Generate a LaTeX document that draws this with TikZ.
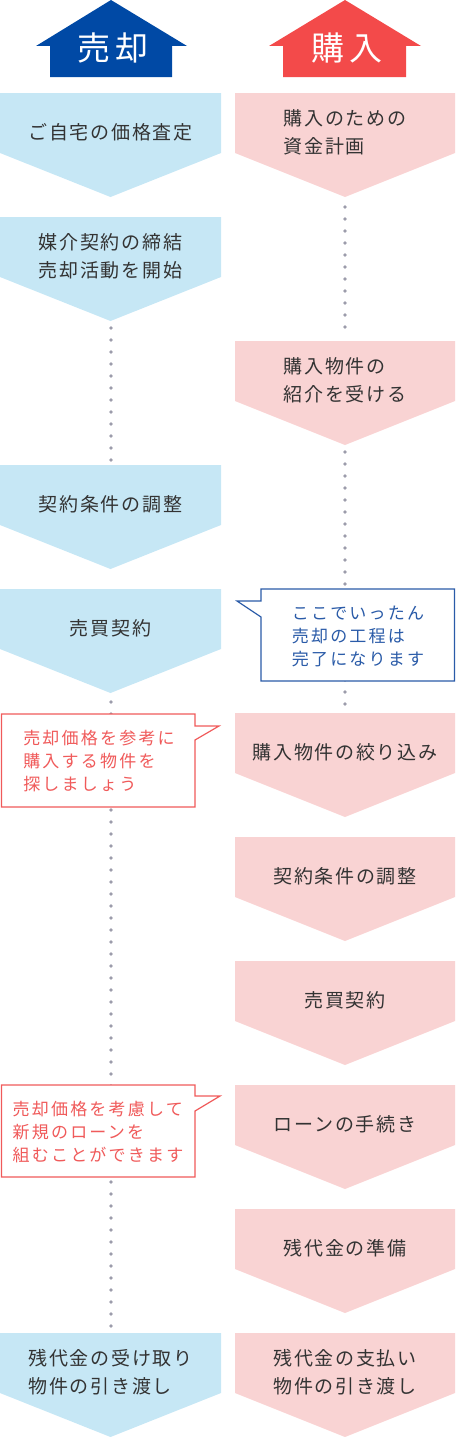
\documentclass[tikz,border=0pt]{standalone}
\usepackage{fontspec}
\setmainfont{Noto Sans CJK JP}
\newfontfamily\boxfont[LetterSpace=9]{Noto Sans CJK JP}
\newfontfamily\callfont[LetterSpace=13]{Noto Sans CJK JP}
\newfontfamily\headfont[LetterSpace=14]{Noto Sans CJK JP}
\definecolor{hblue}{HTML}{0049A5}
\definecolor{hred}{HTML}{F34A4A}
\definecolor{lblue}{HTML}{C6E7F5}
\definecolor{lpink}{HTML}{F9D3D3}
\definecolor{txt}{HTML}{333333}
\definecolor{cblue}{HTML}{2A5BA8}
\definecolor{cred}{HTML}{F05A5A}
\definecolor{dotc}{HTML}{9C9CAB}
\tikzset{
  boxtext/.style={text=txt, font=\boxfont\fontsize{19}{28}\selectfont, align=left, inner sep=0pt},
  headtext/.style={text=white, font=\headfont\fontsize{33}{33}\selectfont, inner sep=0pt},
  calltext/.style={font=\callfont\fontsize{17}{23.3}\selectfont, align=left, inner sep=0pt},
  dotline/.style={draw=dotc, line width=3.6pt, line cap=round, dash pattern=on 0pt off 12pt},
  callblue/.style={fill=white, draw=cblue, line width=1.2pt},
  callred/.style={fill=white, draw=cred, line width=1.2pt},
}
% #1 name, #2 left x, #3 top y, #4 width, #5 fill, #6 text
\newcommand\flowstep[6]{%
  \fill[#5] (#2,#3) -- ++(#4,0) -- ++(0,60) -- ++({-#4/2},44) -- ++({-#4/2},-44) -- cycle;
  \coordinate (#1-top) at ({#2+#4/2},#3);
  \coordinate (#1-tip) at ({#2+#4/2},{#3+104});
  \node[boxtext] (#1) at ({#2+#4/2},{#3+39}) {#6};
}
\begin{document}
\begin{tikzpicture}[x=1pt,y=-1pt]
\useasboundingbox (0,0) rectangle (456,1437);
% headers
\fill[hblue] (111,0) -- (187,46) -- (172,46) -- (172,77) -- (50,77) -- (50,46) -- (36,46) -- cycle;
\node[headtext] (hsell) at (113,48) {売却};
\fill[hred] (345,0) -- (421,46) -- (406,46) -- (406,77) -- (283,77) -- (283,46) -- (269,46) -- cycle;
\node[headtext] (hbuy) at (347,48) {購入};
% dotted connectors
\coordinate (dL1s) at (111,328); \coordinate (dL1e) at (111,460.5);
\coordinate (dL2s) at (111,702); \coordinate (dL2e) at (111,1326.5);
\coordinate (dR1s) at (345,207); \coordinate (dR1e) at (345,327.5);
\coordinate (dR2s) at (345,452); \coordinate (dR2e) at (345,704.5);
\draw[dotline] (dL1s) -- (dL1e);
\draw[dotline] (dL2s) -- (dL2e);
\draw[dotline] (dR1s) -- (dR1e);
\draw[dotline] (dR2s) -- (dR2e);
% left column
\flowstep{L1}{0}{93}{221}{lblue}{ご自宅の価格査定}
\flowstep{L2}{0}{217}{221}{lblue}{媒介契約の締結\\売却活動を開始}
\flowstep{L3}{0}{465}{221}{lblue}{契約条件の調整}
\flowstep{L4}{0}{589}{221}{lblue}{売買契約}
\flowstep{L5}{0}{1333}{221}{lblue}{残代金の受け取り\\物件の引き渡し}
% right column
\flowstep{R1}{235}{93}{220}{lpink}{購入のための\\資金計画}
\flowstep{R2}{235}{341}{220}{lpink}{購入物件の\\紹介を受ける}
\flowstep{R3}{235}{713}{220}{lpink}{購入物件の絞り込み}
\flowstep{R4}{235}{837}{220}{lpink}{契約条件の調整}
\flowstep{R5}{235}{961}{220}{lpink}{売買契約}
\flowstep{R6}{235}{1085}{220}{lpink}{ローンの手続き}
\flowstep{R7}{235}{1209}{220}{lpink}{残代金の準備}
\flowstep{R8}{235}{1333}{220}{lpink}{残代金の支払い\\物件の引き渡し}
% callouts
\draw[callblue] (261,589) -- (454.4,589) -- (454.4,681) -- (261,681) -- (261,617) -- (237,601) -- (261,601) -- cycle;
\node[calltext, text=cblue] (cb) at (358,636.5) {ここでいったん\\売却の工程は\\完了になります};
\draw[callred] (1.5,714) -- (195,714) -- (195,726) -- (219,726) -- (195,740) -- (195,807) -- (1.5,807) -- cycle;
\node[calltext, text=cred] (cr1) at (99,761) {売却価格を参考に\\購入する物件を\\探しましょう};
\draw[callred] (1.5,1085) -- (195,1085) -- (195,1096) -- (220,1096) -- (195,1111) -- (195,1177) -- (1.5,1177) -- cycle;
\node[calltext, text=cred] (cr2) at (98,1132) {売却価格を考慮して\\新規のローンを\\組むことができます};
\end{tikzpicture}
\end{document}
